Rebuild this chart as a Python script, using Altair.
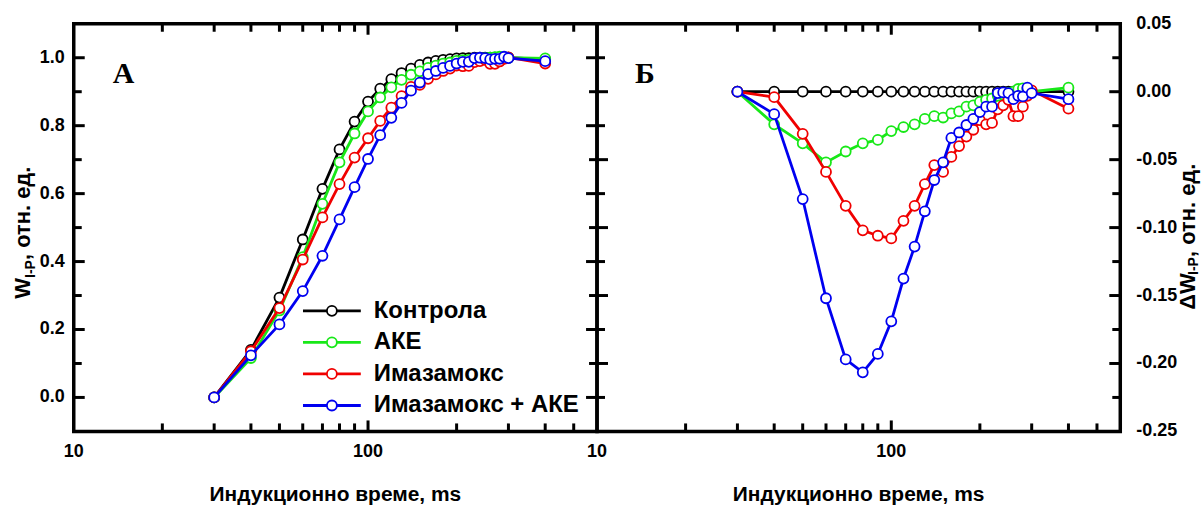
import altair as alt
import pandas as pd

# Induction time points, ms
TIMES = [30, 40, 50, 60, 70, 80, 90, 100, 110, 120, 130, 140, 150, 160, 170,
         180, 190, 200, 210, 220, 230, 240, 250, 260, 270, 280, 290, 300, 400]

SERIES = ["Контрола", "АКЕ", "Имазамокс", "Имазамокс + АКЕ"]
COLORS = ["#000000", "#18e818", "#f00000", "#0000f0"]

# Panel А: relative variable fluorescence W(I-P)
W_CONTROL = [0.000, 0.140, 0.294, 0.465, 0.614, 0.730, 0.812, 0.871, 0.909, 0.937,
             0.955, 0.968, 0.979, 0.986, 0.991, 0.994, 0.996, 0.998, 0.999, 0.999,
             1.000, 1.000, 1.000, 1.000, 1.000, 1.000, 1.000, 1.000, 0.995]
W_AKE = [0.000, 0.116, 0.256, 0.413, 0.570, 0.692, 0.777, 0.842, 0.883, 0.913,
         0.935, 0.950, 0.960, 0.970, 0.977, 0.983, 0.986, 0.991, 0.993, 0.994,
         0.997, 0.998, 0.999, 1.000, 1.002, 1.003, 1.002, 1.000, 0.998]
W_IMAZ = [0.000, 0.136, 0.263, 0.406, 0.530, 0.628, 0.706, 0.763, 0.814, 0.853,
          0.887, 0.914, 0.920, 0.938, 0.951, 0.961, 0.968, 0.977, 0.975, 0.976,
          0.987, 0.990, 0.994, 0.982, 0.982, 0.989, 0.997, 1.001, 0.983]
W_IMAZ_AKE = [0.000, 0.124, 0.215, 0.313, 0.417, 0.524, 0.619, 0.702, 0.772, 0.823,
              0.867, 0.903, 0.927, 0.952, 0.961, 0.970, 0.976, 0.983, 0.988, 0.988,
              0.999, 1.000, 0.999, 0.995, 0.997, 0.997, 1.003, 0.999, 0.990]

# Panel Б: difference to the control, dW(I-P)
DW_CONTROL = [0.0, 0.0, 0.0, 0.0, 0.0, 0.0, 0.0, 0.0, 0.0, 0.0,
              0.0, 0.0, 0.0, 0.0, 0.0, 0.0, 0.0, 0.0, 0.0, 0.0,
              0.0, 0.0, 0.0, 0.0, 0.0, 0.0, 0.0, 0.0, 0.0]
DW_AKE = [0.000, -0.024, -0.038, -0.052, -0.044, -0.038, -0.0355, -0.029, -0.026, -0.024,
          -0.020, -0.018, -0.019, -0.016, -0.0145, -0.011, -0.010, -0.0075, -0.006, -0.005,
          -0.003, -0.002, -0.001, 0.000, 0.002, 0.0025, 0.002, 0.000, 0.003]
DW_IMAZ = [0.000, -0.004, -0.031, -0.059, -0.084, -0.102, -0.106, -0.108, -0.095, -0.084,
           -0.068, -0.054, -0.059, -0.048, -0.040, -0.033, -0.028, -0.021, -0.024, -0.023,
           -0.013, -0.010, -0.006, -0.018, -0.018, -0.011, -0.003, 0.001, -0.0125]
DW_IMAZ_AKE = [0.000, -0.0165, -0.079, -0.152, -0.197, -0.2065, -0.193, -0.169, -0.1375, -0.114,
               -0.088, -0.065, -0.052, -0.034, -0.030, -0.0245, -0.020, -0.015, -0.011, -0.011,
               -0.001, -0.0005, -0.001, -0.0055, -0.003, -0.0035, 0.003, -0.001, -0.0055]

# Axis ticks and labels
X_MAJOR = [100]
X_MINOR = [20, 30, 40, 50, 60, 70, 80, 90, 200, 300, 400, 500]
X_LABELS = [10, 100]
A_Y_MAJOR = [0.0, 0.2, 0.4, 0.6, 0.8, 1.0]
A_Y_MINOR = [0.1, 0.3, 0.5, 0.7, 0.9]
A_Y_LABELS = [0.0, 0.2, 0.4, 0.6, 0.8, 1.0]
B_Y_MAJOR = [0.0, -0.05, -0.10, -0.15, -0.20]
B_Y_MINOR = [0.025, -0.025, -0.075, -0.125, -0.175, -0.225]
B_Y_LABELS = [0.05, 0.0, -0.05, -0.10, -0.15, -0.20, -0.25]

X_TITLE = "Индукционно време, ms"

FONT = "Liberation Sans"
W, H = 525, 409
MAJ, MIN = 11, 8
TICK_W = 3
LINE_W = 2.8
MARK_SIZE = 100
MARK_SW = 1.8

x_scale = alt.Scale(type="log", domain=[10, 600], nice=False)
one = pd.DataFrame({"a": [0]})


def data_layers(vals_list, y_scale):
    layers = []
    for color, vals in zip(COLORS, vals_list):
        df = pd.DataFrame({"t": TIMES, "v": vals})
        base = alt.Chart(df).encode(
            x=alt.X("t:Q", scale=x_scale, axis=None),
            y=alt.Y("v:Q", scale=y_scale, axis=None),
        )
        layers.append(base.mark_line(color=color, strokeWidth=LINE_W))
        layers.append(base.mark_point(shape="circle", filled=True, fill="white",
                                      stroke=color, strokeWidth=MARK_SW,
                                      size=MARK_SIZE, opacity=1))
    return layers


def x_ticks(values, length):
    df = pd.DataFrame({"v": values})
    base = alt.Chart(df).encode(x=alt.X("v:Q", scale=x_scale, axis=None))
    top = base.mark_rule(color="black", strokeWidth=TICK_W).encode(
        y=alt.value(0), y2=alt.value(length))
    bottom = base.mark_rule(color="black", strokeWidth=TICK_W).encode(
        y=alt.value(H), y2=alt.value(H - length))
    return [top, bottom]


def y_ticks(values, length, y_scale):
    df = pd.DataFrame({"v": values})
    base = alt.Chart(df).encode(y=alt.Y("v:Q", scale=y_scale, axis=None))
    left = base.mark_rule(color="black", strokeWidth=TICK_W).encode(
        x=alt.value(0), x2=alt.value(length))
    right = base.mark_rule(color="black", strokeWidth=TICK_W).encode(
        x=alt.value(W), x2=alt.value(W - length))
    return [left, right]


def x_labels():
    df = pd.DataFrame({"v": X_LABELS, "lab": [str(v) for v in X_LABELS]})
    return alt.Chart(df).mark_text(font=FONT, fontWeight="bold", fontSize=18,
                                   align="center", baseline="alphabetic").encode(
        x=alt.X("v:Q", scale=x_scale, axis=None), y=alt.value(H + 26), text="lab:N")


def y_labels(values, fmt, y_scale, side):
    df = pd.DataFrame({"v": values, "lab": [fmt.format(v) for v in values]})
    if side == "left":
        xpos, align = -9, "right"
    else:
        xpos, align = W + 16, "left"
    return alt.Chart(df).mark_text(font=FONT, fontWeight="bold", fontSize=18,
                                   align=align, baseline="middle").encode(
        y=alt.Y("v:Q", scale=y_scale, axis=None), x=alt.value(xpos), text="lab:N")


def text_piece(text, size, x, y, angle=0, align="left", baseline="alphabetic",
               font=FONT):
    return alt.Chart(one).mark_text(font=font, fontWeight="bold", fontSize=size,
                                    angle=angle, align=align, baseline=baseline,
                                    text=text, color="black").encode(
        x=alt.value(x), y=alt.value(y))


def frame_layers(y_scale, y_major, y_minor):
    return (x_ticks(X_MAJOR, MAJ) + x_ticks(X_MINOR, MIN)
            + y_ticks(y_major, MAJ, y_scale) + y_ticks(y_minor, MIN, y_scale)
            + [x_labels(),
               text_piece(X_TITLE, 21, W / 2, 479, align="center")])


def legend_layers():
    leg = pd.DataFrame({"name": SERIES})
    row = alt.Y("name:N", scale=alt.Scale(type="point", domain=SERIES,
                                          range=[288, 383], padding=0),
                axis=None)
    col_scale = alt.Scale(domain=SERIES, range=COLORS)
    line = alt.Chart(leg).mark_rule(strokeWidth=LINE_W).encode(
        y=row, x=alt.value(230), x2=alt.value(288),
        color=alt.Color("name:N", scale=col_scale, legend=None))
    pts = alt.Chart(leg).mark_point(shape="circle", filled=True, fill="white",
                                    strokeWidth=MARK_SW, size=MARK_SIZE, opacity=1).encode(
        y=row, x=alt.value(259),
        stroke=alt.Stroke("name:N", scale=col_scale, legend=None))
    txt = alt.Chart(leg).mark_text(font=FONT, fontWeight="bold", fontSize=24,
                                   align="left", baseline="middle", color="black").encode(
        y=row, x=alt.value(301), text="name:N")
    return [line, pts, txt]


# Panel А
ya = alt.Scale(domain=[-0.1, 1.1], nice=False, zero=False)
anchor = alt.Chart(one).mark_rule(strokeWidth=0, opacity=0).encode(
    x=alt.value(-72), x2=alt.value(1132), y=alt.value(-21), y2=alt.value(484))
panel_a = alt.layer(
    anchor,
    *frame_layers(ya, A_Y_MAJOR, A_Y_MINOR),
    y_labels(A_Y_LABELS, "{:.1f}", ya, "left"),
    text_piece("W", 22, -44, 276, angle=270),
    text_piece("I-P", 14, -39, 255, angle=270),
    text_piece(", отн. ед.", 22, -44, 237, angle=270),
    text_piece("А", 30, 50, 50, align="center", baseline="middle", font="Liberation Serif"),
    *data_layers([W_CONTROL, W_AKE, W_IMAZ, W_IMAZ_AKE], ya),
    *legend_layers(),
).properties(width=W, height=H).resolve_scale(y="independent", color="independent",
                                              stroke="independent")

# Panel Б
yb = alt.Scale(domain=[-0.25, 0.05], nice=False, zero=False)
panel_b = alt.layer(
    *frame_layers(yb, B_Y_MAJOR, B_Y_MINOR),
    y_labels(B_Y_LABELS, "{:.2f}", yb, "right"),
    text_piece("ΔW", 22, 600, 287, angle=270),
    text_piece("I-P", 14, 603, 252, angle=270),
    text_piece(", отн. ед.", 22, 600, 234, angle=270),
    text_piece("Б", 30, 48, 50, align="center", baseline="middle", font="Liberation Serif"),
    *data_layers([DW_CONTROL, DW_AKE, DW_IMAZ, DW_IMAZ_AKE], yb),
).properties(width=W, height=H).resolve_scale(y="independent")

chart = alt.hconcat(panel_a, panel_b, spacing=0, bounds="flush").properties(
    padding=0, background="white"
).configure_view(stroke="black", strokeWidth=3.5)

chart.save("out.html", embed_options={"renderer": "svg", "actions": False})
